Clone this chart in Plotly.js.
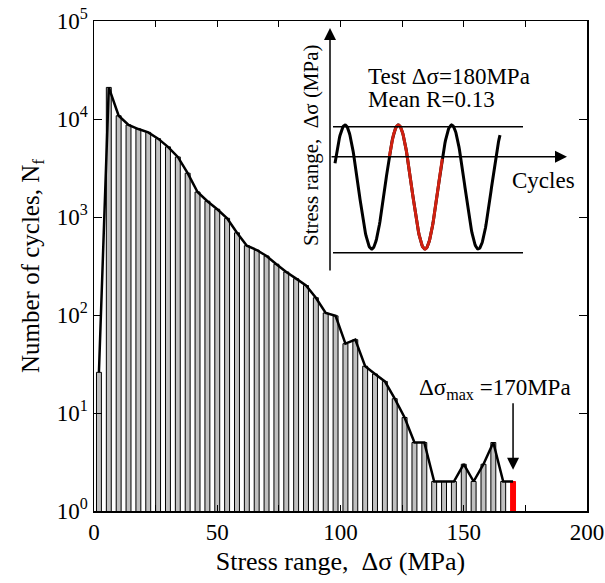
<!DOCTYPE html>
<html><head><meta charset="utf-8">
<script src="https://cdn.plot.ly/plotly-3.0.1.min.js"></script>
<style>body{margin:0;padding:0;background:#fff;} #chart{width:605px;height:583px;}</style>
</head><body><div id="chart"></div>
<script>
// Histogram bins (MPa, bin centres) and cycle counts
const stressRange = [2,6,10,14,18,22,26,30,34,38,42,46,50,54,58,62,66,70,74,78,82,86,90,94,98,102,106,110,114,118,122,126,130,134,138,142,146,150,154,158,162,166];
const cycles = [26,21000,10800,8700,7900,7300,6300,5200,4100,2800,1800,1450,1200,970,690,510,460,400,330,275,235,200,150,105,98,51,56,30,25,21,14,9,5,5,2,2,2,3,2,3,5,2];
const maxStress = [170];
const maxCycles = [2];
const yTickVals = [1,10,100,1000,10000,100000];
const yTickText = ['10<sup>0</sup>','10<sup>1</sup>','10<sup>2</sup>','10<sup>3</sup>','10<sup>4</sup>','10<sup>5</sup>'];
const xTickVals = [0,25,50,75,100,125,150,175,200];
const xTickText = ['0','','50','','100','','150','','200'];

// Inset schematic (pixel-like units of an overlay axis)
const insetCentre = 187, insetAmp = 62, insetPeriod = 53.3, insetPeak = 345;
function wave(x0, x1){
  const xs=[], ys=[];
  for(let x=x0; x<=x1+1e-9; x+=0.5){
    xs.push(x);
    ys.push(insetCentre - insetAmp*Math.cos(2*Math.PI*(x-insetPeak)/insetPeriod));
  }
  return {xs, ys};
}
const wAll = wave(335, 500);
const wRed = wave(389.3, 442.6);

const FONT = 'Liberation Serif, Times New Roman, serif';
const NB = '\u00A0';

const traces = [
  {type:'bar', x:stressRange, y:cycles, width:2,
   marker:{color:'#c0c0c0', line:{color:'#000', width:1}}, hoverinfo:'x+y'},
  {type:'bar', x:maxStress, y:maxCycles, width:2,
   marker:{color:'#ff0000', line:{color:'#ff0000', width:1}}},
  {type:'scatter', mode:'lines', x:stressRange.concat(maxStress), y:cycles.concat(maxCycles),
   line:{color:'#000', width:2.5}},
  {type:'scatter', mode:'lines', x:wAll.xs, y:wAll.ys, xaxis:'x2', yaxis:'y2',
   line:{color:'#000', width:3}},
  {type:'scatter', mode:'lines', x:wRed.xs, y:wRed.ys, xaxis:'x2', yaxis:'y2',
   line:{color:'#d02010', width:3}}
];

const layout = {
  width:605, height:583,
  margin:{l:94, r:18, t:21, b:72},
  paper_bgcolor:'#fff', plot_bgcolor:'#fff',
  showlegend:false, bargap:0,
  font:{family:FONT, color:'#000', size:23},
  xaxis:{range:[0,200], tickvals:xTickVals, ticktext:xTickText, ticks:'inside', ticklen:6,
         tickcolor:'#000', tickwidth:1, showline:true, linecolor:'#000', linewidth:1.5, mirror:'ticks',
         showgrid:false, zeroline:false, tickfont:{size:23, family:FONT},
         title:{text:'Stress range,'+NB+NB+'Δσ (MPa)', font:{size:26, family:FONT}, standoff:7}},
  yaxis:{type:'log', range:[0,5], tickvals:yTickVals, ticktext:yTickText, ticks:'inside', ticklen:8,
         tickcolor:'#000', tickwidth:1, showline:true, linecolor:'#000', linewidth:1.5, mirror:'ticks',
         showgrid:false, zeroline:false, tickfont:{size:23, family:FONT},
         title:{text:'Number of cycles, N<sub>f</sub>', font:{size:25, family:FONT}, standoff:10}},
  xaxis2:{overlaying:'x', range:[94,587], visible:false, fixedrange:true},
  yaxis2:{overlaying:'y', range:[511,21], visible:false, fixedrange:true},
  shapes:[
    {type:'line', xref:'x2', yref:'y2', x0:333, x1:523, y0:126.7, y1:126.7, line:{color:'#000', width:1.5}},
    {type:'line', xref:'x2', yref:'y2', x0:333, x1:523, y0:252.7, y1:252.7, line:{color:'#000', width:1.5}}
  ],
  annotations:[
    // inset axes
    {xref:'x2', yref:'y2', axref:'x2', ayref:'y2', x:330, y:28, ax:330, ay:272, showarrow:true,
     arrowhead:2, arrowsize:1.6, arrowwidth:1.5, arrowcolor:'#000', text:''},
    {xref:'x2', yref:'y2', axref:'x2', ayref:'y2', x:567, y:156.7, ax:330, ay:156.7, showarrow:true,
     arrowhead:2, arrowsize:1.6, arrowwidth:1.5, arrowcolor:'#000', text:''},
    {xref:'x2', yref:'y2', x:366, y:76, xanchor:'left', yanchor:'middle', showarrow:false,
     text:'Test Δσ=180MPa', font:{size:23, family:FONT}},
    {xref:'x2', yref:'y2', x:366, y:99, xanchor:'left', yanchor:'middle', showarrow:false,
     text:'Mean R=0.13', font:{size:23, family:FONT}},
    {xref:'x2', yref:'y2', x:510, y:180, xanchor:'left', yanchor:'middle', showarrow:false,
     text:'Cycles', font:{size:23, family:FONT}},
    {xref:'x2', yref:'y2', x:311, y:145, xanchor:'center', yanchor:'middle', showarrow:false, textangle:-90,
     text:'Stress range,'+NB+NB+'Δσ (MPa)', font:{size:21, family:FONT}},
    // max stress arrow
    {xref:'x', yref:'y', x:170, y:0.42, ax:0, ay:-68, showarrow:true, arrowhead:2, arrowsize:1.6,
     arrowwidth:1.5, arrowcolor:'#000', text:''},
    {xref:'x', yref:'y', x:162.7, y:1.24, xanchor:'center', yanchor:'middle', showarrow:false,
     text:'Δσ<sub>max</sub> =170MPa', font:{size:23, family:FONT}}
  ]
};

Plotly.newPlot('chart', traces, layout, {staticPlot:true, displayModeBar:false});
</script></body></html>
